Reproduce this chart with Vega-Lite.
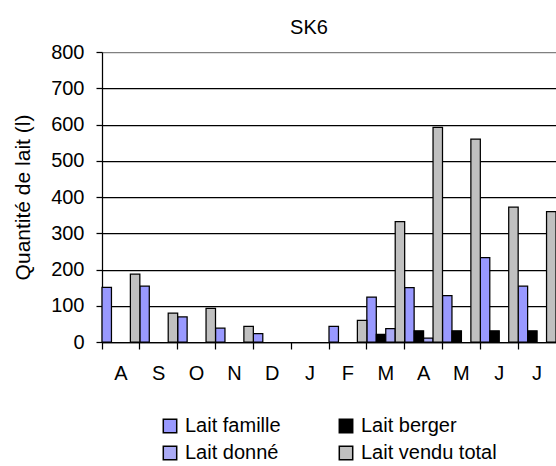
{
  "$schema": "https://vega.github.io/schema/vega-lite/v6.json",
  "width": 454,
  "height": 290,
  "autosize": {"type": "none"},
  "padding": {"left": 102, "top": 52, "right": 0, "bottom": 124},
  "background": "white",
  "config": {
    "font": "Liberation Sans",
    "view": {"stroke": null},
    "axis": {"domainColor": "black", "tickColor": "black", "labelColor": "black", "titleColor": "black", "labelFont": "Liberation Sans", "titleFont": "Liberation Sans"},
    "legend": {"labelFont": "Liberation Sans"}
  },
  "title": {"text": "SK6", "fontSize": 20, "fontWeight": "normal", "color": "black", "font": "Liberation Sans", "offset": 4, "dx": -20},
  "data": {"values": [
    {"m": "Aoû", "s": "Lait famille", "v": 151},
    {"m": "Sep", "s": "Lait famille", "v": 154},
    {"m": "Oct", "s": "Lait famille", "v": 69},
    {"m": "Nov", "s": "Lait famille", "v": 38},
    {"m": "Déc", "s": "Lait famille", "v": 23},
    {"m": "Fév", "s": "Lait famille", "v": 43},
    {"m": "Mar", "s": "Lait famille", "v": 124},
    {"m": "Avr", "s": "Lait famille", "v": 150},
    {"m": "Mai", "s": "Lait famille", "v": 128},
    {"m": "Juin", "s": "Lait famille", "v": 233},
    {"m": "Juil", "s": "Lait famille", "v": 154},
    {"m": "Mar", "s": "Lait berger", "v": 21},
    {"m": "Avr", "s": "Lait berger", "v": 31},
    {"m": "Mai", "s": "Lait berger", "v": 31},
    {"m": "Juin", "s": "Lait berger", "v": 31},
    {"m": "Juil", "s": "Lait berger", "v": 31},
    {"m": "Mar", "s": "Lait donné", "v": 37},
    {"m": "Avr", "s": "Lait donné", "v": 11},
    {"m": "Aoû", "s": "Lait vendu total", "v": 187},
    {"m": "Sep", "s": "Lait vendu total", "v": 80},
    {"m": "Oct", "s": "Lait vendu total", "v": 93},
    {"m": "Nov", "s": "Lait vendu total", "v": 43},
    {"m": "Fév", "s": "Lait vendu total", "v": 60},
    {"m": "Mar", "s": "Lait vendu total", "v": 332},
    {"m": "Avr", "s": "Lait vendu total", "v": 592},
    {"m": "Mai", "s": "Lait vendu total", "v": 560},
    {"m": "Juin", "s": "Lait vendu total", "v": 372},
    {"m": "Juil", "s": "Lait vendu total", "v": 360}
  ]},
  "mark": {"type": "bar", "stroke": "black", "strokeWidth": 1.25},
  "encoding": {
    "x": {
      "field": "m", "type": "nominal",
      "scale": {"domain": ["Aoû","Sep","Oct","Nov","Déc","Jan","Fév","Mar","Avr","Mai","Juin","Juil"], "paddingInner": 0, "paddingOuter": 0},
      "axis": {"title": null, "labelAngle": 0, "labelExpr": "slice(datum.label, 0, 1)", "bandPosition": 0, "tickSize": 7, "tickWidth": 1.25, "labelFontSize": 20, "labelPadding": 14, "domainWidth": 1.25, "grid": false}
    },
    "xOffset": {
      "field": "s", "type": "nominal",
      "scale": {"domain": ["Lait famille", "Lait berger", "Lait donné", "Lait vendu total"], "paddingInner": 0, "paddingOuter": 0}
    },
    "y": {
      "field": "v", "type": "quantitative",
      "scale": {"domain": [0, 800], "nice": false},
      "axis": {"title": "Quantité de lait (l)", "titleFontSize": 21, "titleFontWeight": "normal", "titlePadding": 17, "values": [0,100,200,300,400,500,600,700,800], "labelOverlap": false, "labelFontSize": 20, "tickSize": 6, "tickWidth": 1.25, "domainWidth": 1.25, "labelPadding": 12, "grid": true,
        "gridColor": {"condition": {"test": "datum.value >= 800", "value": "#808080"}, "value": "black"}, "gridOpacity": 1, "gridWidth": 1.25}
    },
    "color": {
      "field": "s", "type": "nominal",
      "scale": {"domain": ["Lait famille", "Lait berger", "Lait donné", "Lait vendu total"], "range": ["#9999FF", "#000000", "#AAAAF5", "#C0C0C0"]},
      "legend": {"title": null, "orient": "none", "legendX": 58, "legendY": 364, "columns": 2, "direction": "horizontal", "symbolType": "square", "symbolSize": 180, "symbolStrokeColor": "black", "symbolStrokeWidth": 1.5, "symbolOpacity": 1, "labelFontSize": 20, "labelColor": "black", "columnPadding": 55, "rowPadding": 7, "labelOffset": 5, "padding": 0}
    }
  }
}
